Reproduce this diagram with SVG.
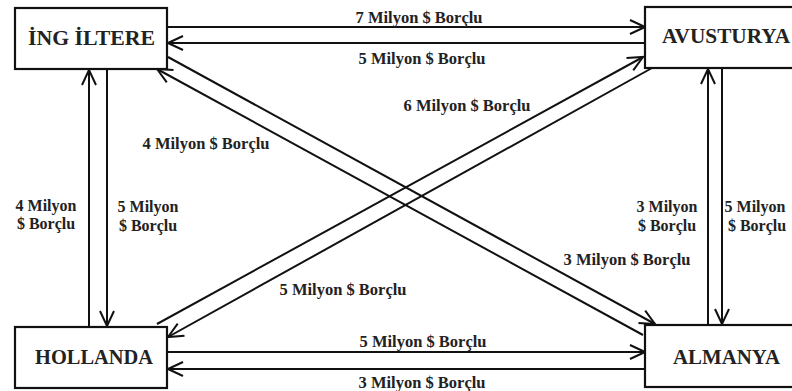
<svg xmlns="http://www.w3.org/2000/svg" width="792" height="391" viewBox="0 0 792 391">
<defs>
<marker id="arr" viewBox="-16 -9 18 18" refX="0" refY="0" markerWidth="18" markerHeight="18" markerUnits="userSpaceOnUse" orient="auto">
<path d="M-15,-7 L0,0 L-15,7" fill="none" stroke="#111" stroke-width="2"/>
</marker>
<style>
.box{fill:#fff;stroke:#111;stroke-width:2.2}
.ln{stroke:#111;stroke-width:2;fill:none}
.ar{marker-end:url(#arr)}
.nl{font-family:"Liberation Serif","Times New Roman",serif;font-weight:bold;font-size:20px;fill:#222}
.el{font-family:"Liberation Serif","Times New Roman",serif;font-weight:bold;font-size:16.5px;fill:#222}
.sl{font-family:"Liberation Serif","Times New Roman",serif;font-weight:bold;font-size:16px;fill:#222}
</style>
</defs>
<rect width="792" height="391" fill="#fff"/>
<g id="connectors">
<line class="ln ar" x1="167" y1="27" x2="645" y2="27"/>
<line class="ln ar" x1="645" y1="43" x2="168" y2="43"/>
<line class="ln ar" x1="167" y1="352" x2="645" y2="352"/>
<line class="ln ar" x1="645" y1="369" x2="168" y2="369"/>
<line class="ln ar" x1="89" y1="327" x2="89" y2="70"/>
<line class="ln ar" x1="107" y1="69" x2="107" y2="326"/>
<line class="ln ar" x1="708" y1="325" x2="708" y2="69"/>
<line class="ln ar" x1="722" y1="68" x2="722" y2="324"/>
<line class="ln ar" x1="168" y1="57" x2="655" y2="324"/>
<line class="ln ar" x1="643" y1="335" x2="157" y2="69"/>
<line class="ln ar" x1="157" y1="324" x2="643" y2="57"/>
<line class="ln ar" x1="652" y1="68" x2="168" y2="337"/>
<text class="el" x="419" y="23" text-anchor="middle">7 Milyon $ Borçlu</text>
<text class="el" x="422" y="64" text-anchor="middle">5 Milyon $ Borçlu</text>
<text class="el" x="423" y="347" text-anchor="middle">5 Milyon $ Borçlu</text>
<text class="el" x="422" y="388" text-anchor="middle">3 Milyon $ Borçlu</text>
<text class="el" x="467" y="111" text-anchor="middle">6 Milyon $ Borçlu</text>
<text class="el" x="206" y="149" text-anchor="middle">4 Milyon $ Borçlu</text>
<text class="el" x="627" y="265" text-anchor="middle">3 Milyon $ Borçlu</text>
<text class="el" x="343" y="295" text-anchor="middle">5 Milyon $ Borçlu</text>
<text class="sl" x="46" y="211" text-anchor="middle">4 Milyon</text>
<text class="sl" x="46" y="229" text-anchor="middle">$ Borçlu</text>
<text class="sl" x="148" y="212" text-anchor="middle">5 Milyon</text>
<text class="sl" x="148" y="231" text-anchor="middle">$ Borçlu</text>
<text class="sl" x="667" y="212" text-anchor="middle">3 Milyon</text>
<text class="sl" x="667" y="231" text-anchor="middle">$ Borçlu</text>
<text class="sl" x="755" y="212" text-anchor="middle">5 Milyon</text>
<text class="sl" x="757" y="231" text-anchor="middle">$ Borçlu</text>
</g>
<g id="ingiltere">
<rect class="box" x="15" y="8" width="152" height="61"/>
<text class="nl" x="28" y="45" textLength="127" lengthAdjust="spacingAndGlyphs">İNG İLTERE</text>
</g>
<g id="avusturya">
<rect class="box" x="645" y="7" width="160" height="61"/>
<text class="nl" x="662" y="43" textLength="128" lengthAdjust="spacingAndGlyphs">AVUSTURYA</text>
</g>
<g id="hollanda">
<rect class="box" x="15" y="327" width="152" height="61"/>
<text class="nl" x="35" y="364" textLength="118" lengthAdjust="spacingAndGlyphs">HOLLANDA</text>
</g>
<g id="almanya">
<rect class="box" x="645" y="325" width="160" height="62"/>
<text class="nl" x="673" y="364" textLength="107" lengthAdjust="spacingAndGlyphs">ALMANYA</text>
</g>
</svg>
